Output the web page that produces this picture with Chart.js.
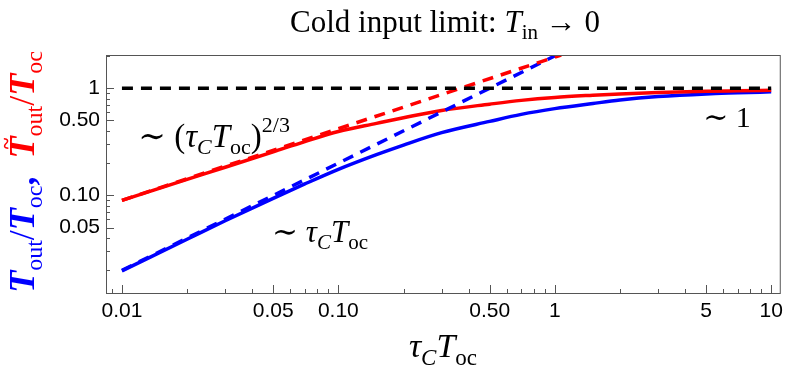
<!DOCTYPE html>
<html>
<head>
<meta charset="utf-8">
<script src="https://cdn.jsdelivr.net/npm/chart.js@4"></script>
<style>
  body { margin: 0; background: #fff; }
  #wrap { width: 789px; height: 379px; position: relative; }
</style>
</head>
<body>
<div id="wrap"><canvas id="coldChart"></canvas></div>
<script>
// values (log-log)
var tau = [0.01, 0.02, 0.03, 0.05, 0.07, 0.1, 0.15, 0.2, 0.3, 0.5, 0.7, 1, 1.5, 2, 3, 5, 7, 10];
var toutBlue = [0.0198, 0.039, 0.058, 0.094, 0.128, 0.175, 0.24, 0.295, 0.385, 0.49, 0.57, 0.645, 0.72, 0.775, 0.835, 0.885, 0.905, 0.925];
var toutRed = [0.09, 0.141, 0.183, 0.255, 0.318, 0.395, 0.47, 0.53, 0.62, 0.71, 0.77, 0.82, 0.86, 0.885, 0.91, 0.935, 0.945, 0.955];

// asymptotes
var linTau = [0.01, 1.02], linVal = [0.02, 2.04];          // ~ tau
var powTau = [0.01, 1.07], powVal = [0.09, 2.04];          // ~ tau^(2/3)
var oneTau = [0.01, 10], oneVal = [1, 1];                  // ~ 1

var xMajor = [0.01, 0.05, 0.1, 0.5, 1, 5, 10];
var xLabels = ['0.01', '0.05', '0.10', '0.50', '1', '5', '10'];
var xMinor = [0.009, 0.02, 0.03, 0.04, 0.06, 0.07, 0.08, 0.09, 0.2, 0.3, 0.4, 0.6, 0.7, 0.8, 0.9, 2, 3, 4, 6, 7, 8, 9];
var yMajor = [0.05, 0.1, 0.5, 1];
var yLabels = ['0.05', '0.10', '0.50', '1'];
var yMinor = [0.02, 0.03, 0.04, 0.06, 0.07, 0.08, 0.09, 0.2, 0.3, 0.4, 0.6, 0.7, 0.8, 0.9, 2];

function pts(xs, ys) {
    return xs.map(function (x, i) { return { x: x, y: ys[i] }; });
}

var SERIF = '"Liberation Serif", "DejaVu Serif", serif';
function f(style, size) { return style + ' ' + size + 'px ' + SERIF; }

// rows of text runs (for sub/superscripts)
function runsWidth(ctx, runs) {
    var w = 0;
    runs.forEach(function (r) { ctx.font = r.font; if (!r.over) w += ctx.measureText(r.t).width; });
    return w;
}
function drawRuns(ctx, runs, x, y) {
    var lastX = x, lastW = 0;
    runs.forEach(function (r) {
        ctx.font = r.font;
        ctx.fillStyle = r.c || '#000';
        var w = ctx.measureText(r.t).width;
        if (r.over) {
            ctx.fillText(r.t, lastX + (lastW - w) / 2 + (r.dx || 0), y + (r.dy || 0));
            return;
        }
        ctx.fillText(r.t, x, y + (r.dy || 0));
        lastX = x; lastW = w;
        x += w;
    });
}

var TIL = '\u223C';
var titleRuns = [
    { t: 'Cold input limit: ', font: f('', 31) },
    { t: 'T', font: f('italic', 31) },
    { t: 'in', font: f('', 21), dy: 7 },
    { t: ' \u2192 0', font: f('', 31) }
];
var xTitleRuns = [
    { t: '\u03C4', font: f('italic', 34) },
    { t: 'C', font: f('italic', 23), dy: 8 },
    { t: 'T', font: f('italic', 34) },
    { t: 'oc', font: f('', 23), dy: 8 }
];
var B = '#0000ff', R = '#ff0000';
var yTitleRuns = [
    { t: 'T', font: f('italic bold', 36), c: B },
    { t: 'out', font: f('', 24), dy: 8, c: B },
    { t: '/', font: f('', 36), c: B },
    { t: 'T', font: f('italic bold', 36), c: B },
    { t: 'oc', font: f('', 24), dy: 8, c: B },
    { t: ',  ', font: f('bold', 36), c: B },
    { t: 'T', font: f('italic bold', 36), c: R },
    { t: '~', font: f('bold', 22), c: R, over: true, dy: -21, dx: 4 },
    { t: 'out', font: f('', 24), dy: 8, c: R },
    { t: '/', font: f('', 36), c: R },
    { t: 'T', font: f('italic bold', 36), c: R },
    { t: 'oc', font: f('', 24), dy: 8, c: R }
];

// annotations, anchored in data coordinates (left edge, baseline)
var notes = [
    { x: 0.0119, y: 0.28, runs: [
        { t: TIL + ' (', font: f('', 33) },
        { t: '\u03C4', font: f('italic', 33) },
        { t: 'C', font: f('italic', 22), dy: 7 },
        { t: 'T', font: f('italic', 33) },
        { t: 'oc', font: f('', 22), dy: 7 },
        { t: ')', font: f('', 33) },
        { t: '2/3', font: f('', 22), dy: -15 }
    ] },
    { x: 0.0494, y: 0.037, runs: [
        { t: TIL + ' ', font: f('', 31) },
        { t: '\u03C4', font: f('italic', 31) },
        { t: 'C', font: f('italic', 21), dy: 7 },
        { t: 'T', font: f('italic', 31) },
        { t: 'oc', font: f('', 21), dy: 7 }
    ] },
    { x: 4.85, y: 0.43, runs: [
        { t: TIL + ' 1', font: f('', 30) }
    ] }
];

var framePlugin = {
    id: 'frame',
    afterDraw: function (chart) {
        var ctx = chart.ctx, a = chart.chartArea;
        var xs = chart.scales.x, ys = chart.scales.y;
        ctx.save();
        ctx.strokeStyle = '#555';
        ctx.lineWidth = 1;
        ctx.strokeRect(a.left + 0.5, a.top + 0.5, a.right - a.left - 1, a.bottom - a.top);
        ctx.beginPath();
        function xt(v, len) {
            var p = Math.round(xs.getPixelForValue(v)) + 0.5;
            ctx.moveTo(p, a.bottom); ctx.lineTo(p, a.bottom - len);
        }
        function yt(v, len) {
            var p = Math.round(ys.getPixelForValue(v)) + 0.5;
            ctx.moveTo(a.left, p); ctx.lineTo(a.left + len, p);
        }
        xMajor.forEach(function (v) { xt(v, 8); });
        xMinor.forEach(function (v) { xt(v, 4); });
        yMajor.forEach(function (v) { yt(v, 8); });
        yMinor.forEach(function (v) { if (v < ys.max) yt(v, 4); });
        ctx.stroke();

        ctx.textBaseline = 'alphabetic';
        ctx.textAlign = 'left';
        var w = runsWidth(ctx, titleRuns);
        drawRuns(ctx, titleRuns, 445 - w / 2, 32);
        w = runsWidth(ctx, xTitleRuns);
        drawRuns(ctx, xTitleRuns, 443 - w / 2, 357);

        notes.forEach(function (n) {
            drawRuns(ctx, n.runs, xs.getPixelForValue(n.x), ys.getPixelForValue(n.y));
        });

        ctx.translate(34, 172);
        ctx.rotate(-Math.PI / 2);
        w = runsWidth(ctx, yTitleRuns);
        drawRuns(ctx, yTitleRuns, -w / 2, 0);
        ctx.restore();
    }
};

var ctx = document.getElementById('coldChart').getContext('2d');
new Chart(ctx, {
    type: 'line',
    data: {
        datasets: [
            { data: pts(oneTau, oneVal), borderColor: '#000', borderDash: [11, 8], borderWidth: 3.5 },
            { data: pts(powTau, powVal), borderColor: R, borderDash: [11, 8], borderWidth: 3.5 },
            { data: pts(linTau, linVal), borderColor: B, borderDash: [11, 8], borderWidth: 3.5 },
            { data: pts(tau, toutRed), borderColor: R, borderWidth: 3.5, cubicInterpolationMode: 'monotone' },
            { data: pts(tau, toutBlue), borderColor: B, borderWidth: 3.5, cubicInterpolationMode: 'monotone' }
        ]
    },
    options: {
        responsive: true,
        maintainAspectRatio: false,
        animation: false,
        layout: { padding: { top: 55, right: 8, left: 0, bottom: 0 } },
        elements: { point: { radius: 0 } },
        plugins: { legend: { display: false }, tooltip: { enabled: false } },
        scales: {
            x: {
                type: 'logarithmic',
                min: 0.00844, max: 11.07,
                afterFit: function (s) { s.height = 86; },
                afterBuildTicks: function (s) { s.ticks = xMajor.map(function (v) { return { value: v }; }); },
                grid: { display: false, drawTicks: false, tickLength: 0 },
                border: { display: false },
                ticks: {
                    autoSkip: false, maxRotation: 0, padding: 6, color: '#000',
                    font: { family: '"Liberation Sans", Arial, sans-serif', size: 21 },
                    callback: function (v) { var i = xMajor.indexOf(v); return i < 0 ? '' : xLabels[i]; }
                }
            },
            y: {
                type: 'logarithmic',
                min: 0.0123, max: 2.04,
                afterFit: function (s) { s.width = 106; },
                afterBuildTicks: function (s) { s.ticks = yMajor.map(function (v) { return { value: v }; }); },
                grid: { display: false, drawTicks: false, tickLength: 0 },
                border: { display: false },
                ticks: {
                    autoSkip: false, padding: 6, color: '#000',
                    font: { family: '"Liberation Sans", Arial, sans-serif', size: 21 },
                    callback: function (v) { var i = yMajor.indexOf(v); return i < 0 ? '' : yLabels[i]; }
                }
            }
        }
    },
    plugins: [framePlugin]
});
</script>
</body>
</html>
